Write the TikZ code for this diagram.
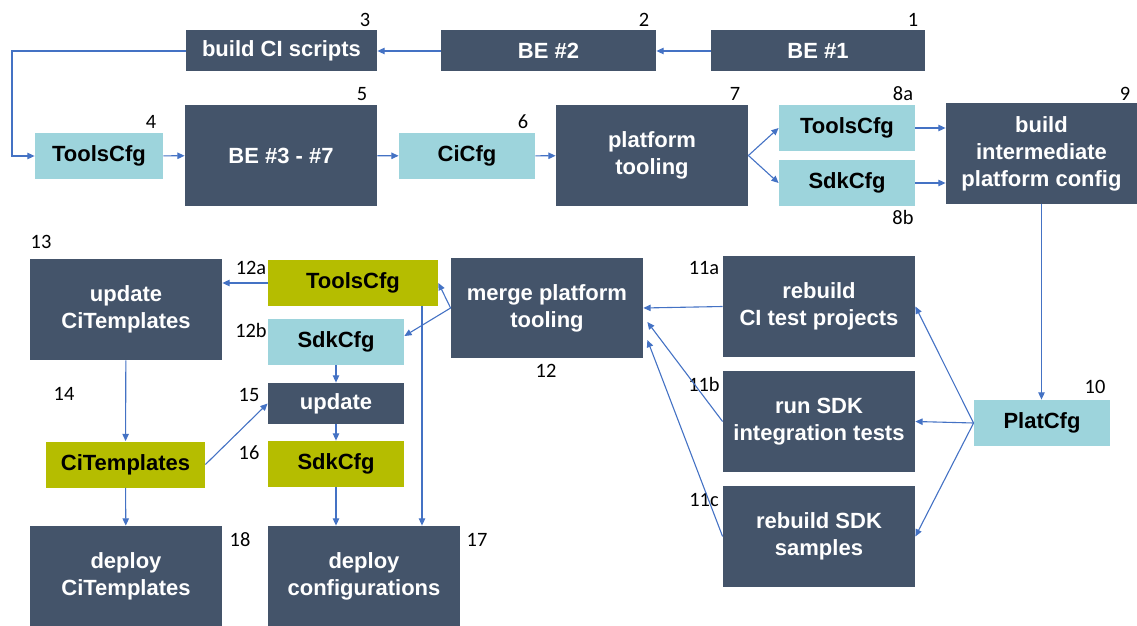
\documentclass[tikz,border=0pt]{standalone}
\usepackage{fontspec}
\setmainfont{Liberation Sans}
\newfontfamily\numfont{Carlito}
\usetikzlibrary{arrows.meta}
\definecolor{slate}{RGB}{68,84,106}
\definecolor{aqua}{RGB}{157,212,220}
\definecolor{lime}{RGB}{181,189,0}
\definecolor{link}{RGB}{68,114,196}
\begin{document}
\begin{tikzpicture}[x=0.5pt, y=-0.5pt,
			every node/.style = {align=center, inner sep=0pt},
			wh/.style 2 args = {minimum width=#1*0.5pt, minimum height=#2*0.5pt},
			task/.style = {fill=slate, text=white, font=\bfseries\fontsize{11}{13.5}\selectfont},
			cfg/.style = {fill=aqua, text=black, font=\bfseries\fontsize{11}{13.5}\selectfont},
			final/.style = {fill=lime, text=black, font=\bfseries\fontsize{11}{13.5}\selectfont},
			num/.style = {font=\numfont\fontsize{10.2}{12}\selectfont},
			flow/.style = {draw=link, line width=0.55pt, -{Triangle[length=3.6pt,width=3.2pt]}}]
			
			\useasboundingbox (0,0) rectangle (1137,626);
			
			% first build chain
			\node[task, wh={214}{41}] (be1) at (818,51) {BE \#1};
			\node[task, wh={215}{41}] (be2) at (548.5,51) {BE \#2};
			\node[task, wh={191}{41}] (ciscr) at (281.5,51) {build CI scripts};
			
			\node[cfg, wh={128}{46}] (tools4) at (99,156) {ToolsCfg};
			\node[task, wh={192}{101}] (be37) at (281,155.5) {BE \#3 - \#7};
			\node[cfg, wh={136}{46}] (cicfg) at (467,156) {CiCfg};
			\node[task, wh={192}{101}] (plat7) at (652,155.5) {platform\\tooling};
			\node[cfg, wh={136}{46}] (tools8a) at (847,128) {ToolsCfg};
			\node[cfg, wh={136}{46}] (sdk8b) at (847,183) {SdkCfg};
			\node[task, wh={191}{101}] (build9) at (1041.5,153.5) {build\\intermediate\\platform config};
			
			% tests
			\node[cfg, wh={136}{46}] (plat10) at (1042,423) {PlatCfg};
			\node[task, wh={192}{101}] (rb11a) at (819,306.5) {rebuild\\CI test projects};
			\node[task, wh={192}{101}] (run11b) at (819,421.5) {run SDK\\integration tests};
			\node[task, wh={192}{101}] (rb11c) at (819,536.5) {rebuild SDK\\samples};
			\node[task, wh={192}{100}] (merge12) at (547,308) {merge platform\\tooling};
			
			% deployment
			\node[final, wh={170}{46}] (tools12a) at (353,283) {ToolsCfg};
			\node[cfg, wh={136}{46}] (sdk12b) at (336,342) {SdkCfg};
			\node[task, wh={136}{41}] (upd15) at (336,403.5) {update};
			\node[final, wh={136}{46}] (sdk16) at (336,464) {SdkCfg};
			\node[task, wh={192}{101}] (updci13) at (126,309.5) {update\\CiTemplates};
			\node[final, wh={159}{46}] (citpl14) at (125.5,464.5) {CiTemplates};
			\node[task, wh={192}{100}] (depci18) at (126,576) {deploy\\CiTemplates};
			\node[task, wh={192}{100}] (depcfg17) at (364,576) {deploy\\configurations};
			
			% step numbers
			\node[num] (n1) at (913,20) {1};
			\node[num] (n2) at (644,20) {2};
			\node[num] (n3) at (365,20) {3};
			\node[num] (n4) at (151,122) {4};
			\node[num] (n5) at (362,94) {5};
			\node[num] (n6) at (523,122) {6};
			\node[num] (n7) at (735,94) {7};
			\node[num] (n8a) at (903,94) {8a};
			\node[num] (n8b) at (903,217) {8b};
			\node[num] (n9) at (1125,94) {9};
			\node[num] (n10) at (1095,387) {10};
			\node[num] (n11a) at (704,268) {11a};
			\node[num] (n11b) at (704,384) {11b};
			\node[num] (n11c) at (704,500) {11c};
			\node[num] (n12) at (546,371) {12};
			\node[num] (n12a) at (251,268) {12a};
			\node[num] (n12b) at (251,330) {12b};
			\node[num] (n13) at (41,242) {13};
			\node[num] (n14) at (64,394) {14};
			\node[num] (n15) at (249,395) {15};
			\node[num] (n16) at (249,453) {16};
			\node[num] (n17) at (477,540) {17};
			\node[num] (n18) at (240,540) {18};
			
			\coordinate (loop) at (12,51);
			\draw[flow] (be1) -- (be2);
			\draw[flow] (be2) -- (ciscr);
			\draw[flow] (ciscr.west) -- (loop) |- (tools4.west);
			\draw[flow] (tools4) -- (be37);
			\draw[flow] (be37) -- (cicfg);
			\draw[flow] (cicfg) -- (plat7);
			\draw[flow] (plat7.east) -- (tools8a.west);
			\draw[flow] (plat7.east) -- (sdk8b.west);
			\draw[flow] (tools8a.east) -- (tools8a.east -| build9.west);
			\draw[flow] (sdk8b.east) -- (sdk8b.east -| build9.west);
			\draw[flow] (build9.south) -- (plat10.north -| build9.south);
			
			\draw[flow] (plat10.west) -- (rb11a.east);
			\draw[flow] (plat10.west) -- (run11b.east);
			\draw[flow] (plat10.west) -- (rb11c.east);
			\draw[flow] (rb11a.west) -- (merge12.east);
			\draw[flow] (run11b.west) -- ([xshift=2pt,yshift=-7pt]merge12.east);
			\draw[flow] (rb11c.west) -- ([xshift=2pt,yshift=-16pt]merge12.east);
			
			\draw[flow] (merge12.west) -- (tools12a.east);
			\draw[flow] (merge12.west) -- ([yshift=3pt]sdk12b.east);
			\draw[flow] (tools12a.west) -- (tools12a.west -| updci13.east);
			\draw[flow] ([xshift=34.5pt]tools12a.south) coordinate (drop) -- (drop |- depcfg17.north);
			\draw[flow] (sdk12b) -- (upd15);
			\draw[flow] (upd15) -- (sdk16);
			\draw[flow] (sdk16.south) -- (sdk16.south |- depcfg17.north);
			\draw[flow] (updci13) -- (citpl14);
			\draw[flow] (citpl14) -- (depci18);
			\draw[flow] (citpl14.east) -- (upd15.west);
			
\end{tikzpicture}
\end{document}
